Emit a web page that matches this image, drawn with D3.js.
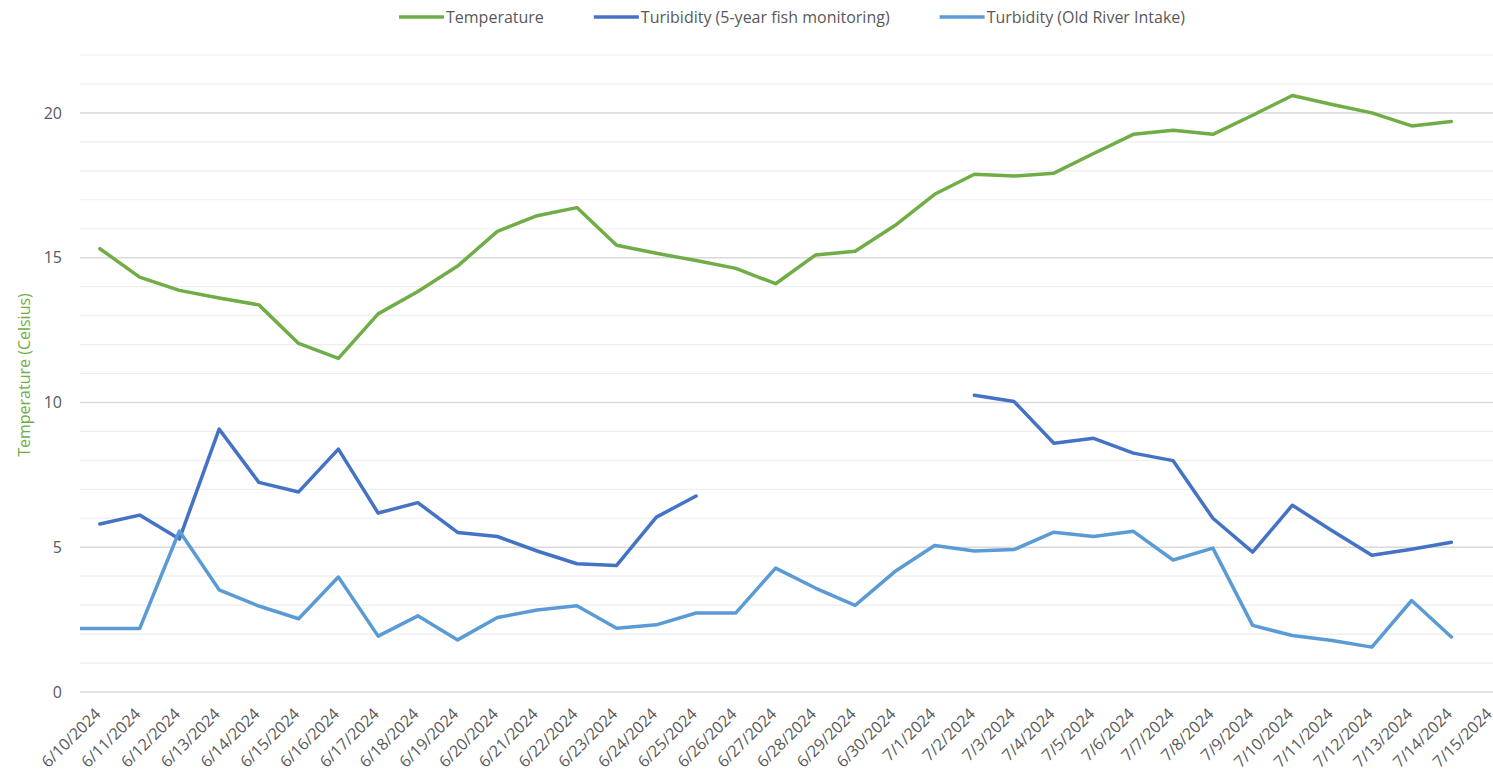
<!DOCTYPE html>
<html>
<head>
<meta charset="utf-8">
<script src="https://cdn.jsdelivr.net/npm/d3@7"></script>
<style>
  body { margin: 0; background: #fff; }
  svg { display: block; font-family: "Open Sans", "Liberation Sans", sans-serif; }
</style>
</head>
<body>
<svg width="1493" height="774"></svg>
<script>
// categories (x axis)
var dates = ["6/10/2024","6/11/2024","6/12/2024","6/13/2024","6/14/2024","6/15/2024","6/16/2024",
  "6/17/2024","6/18/2024","6/19/2024","6/20/2024","6/21/2024","6/22/2024","6/23/2024","6/24/2024",
  "6/25/2024","6/26/2024","6/27/2024","6/28/2024","6/29/2024","6/30/2024","7/1/2024","7/2/2024",
  "7/3/2024","7/4/2024","7/5/2024","7/6/2024","7/7/2024","7/8/2024","7/9/2024","7/10/2024",
  "7/11/2024","7/12/2024","7/13/2024","7/14/2024","7/15/2024"];

// series values (null = no reading)
var temperature = [15.31,14.33,13.87,13.61,13.37,12.04,11.52,13.06,13.83,14.71,15.91,16.45,16.73,15.43,
  15.15,14.9,14.63,14.1,15.09,15.22,16.11,17.19,17.88,17.82,17.92,18.6,19.26,19.4,19.26,19.92,20.6,
  20.29,20.0,19.55,19.7,null];
var fishMonitoring = [5.8,6.11,5.28,9.08,7.24,6.91,8.39,6.18,6.54,5.51,5.37,4.87,4.43,4.37,6.04,6.77,
  null,null,null,null,null,null,10.25,10.03,8.59,8.76,8.25,7.99,6.0,4.83,6.45,5.57,4.72,4.93,5.17,null];
var oldRiver = [2.19,2.19,5.56,3.53,2.97,2.53,3.97,1.93,2.63,1.8,2.57,2.83,2.98,2.2,2.32,2.73,2.73,4.28,
  3.59,2.99,4.16,5.06,4.87,4.92,5.52,5.37,5.55,4.56,4.97,2.3,1.95,1.78,1.55,3.16,1.9,null];
// reading of the day before the first category (runs in from the left edge)
var oldRiverLead = 2.19;

var seriesNames = ["Temperature", "Turibidity (5-year fish monitoring)", "Turbidity (Old River Intake)"];
var seriesColors = ["#70AD47", "#4472C4", "#5B9BD5"];
var yTicks = [0, 5, 10, 15, 20];

var svg = d3.select('svg');
var plotLeft = 80, plotRight = 1511, plotTop = 55, plotBottom = 692;

var x = d3.scaleBand().domain(dates).range([plotLeft, plotRight]);
var step = x.step();
var cx = function(d){ return x(d) + x.bandwidth() / 2; };
var y = d3.scaleLinear().domain([0, 22]).range([plotBottom, plotTop]);

// gridlines: minor every 1, major every 5
svg.append('g').selectAll('line')
  .data(d3.range(1, 23))
  .enter().append('line')
  .attr('x1', plotLeft).attr('x2', plotRight)
  .attr('y1', function(d){ return y(d); })
  .attr('y2', function(d){ return y(d); })
  .attr('stroke', function(d){ return d % 5 == 0 ? '#D9D9D9' : '#EEEEEE'; })
  .attr('stroke-width', function(d){ return d % 5 == 0 ? 1.5 : 1.2; });

// x axis line
svg.append('line')
  .attr('x1', plotLeft).attr('x2', plotRight)
  .attr('y1', y(0)).attr('y2', y(0))
  .attr('stroke', '#D9D9D9').attr('stroke-width', 1.5);

// y tick labels
svg.append('g').selectAll('text')
  .data(yTicks)
  .enter().append('text')
  .attr('x', 62)
  .attr('y', function(d){ return y(d); })
  .attr('dy', '0.35em')
  .attr('text-anchor', 'end')
  .attr('fill', '#595959')
  .style('font-size', '16px')
  .text(function(d){ return d; });

// x tick labels, rotated
svg.append('g').selectAll('text')
  .data(dates)
  .enter().append('text')
  .attr('transform', function(d){ return 'translate(' + (cx(d) - 2) + ',' + (y(0) + 19) + ')rotate(-45)'; })
  .attr('text-anchor', 'end')
  .attr('dy', '0.35em')
  .attr('fill', '#595959')
  .style('font-size', '16px')
  .text(function(d){ return d; });

// y axis title
svg.append('text')
  .attr('transform', 'translate(30,375)rotate(-90)')
  .attr('text-anchor', 'middle')
  .attr('fill', '#70AD47')
  .style('font-size', '16px')
  .text('Temperature (Celsius)');

// clip to plot area
svg.append('clipPath').attr('id', 'plot')
  .append('rect').attr('x', plotLeft).attr('y', 0).attr('width', plotRight - plotLeft).attr('height', plotBottom + 5);

var line = d3.line()
  .defined(function(d){ return d.v != null; })
  .x(function(d){ return d.x; })
  .y(function(d){ return y(d.v); });

function pts(values){
  return values.map(function(v, i){ return {x: cx(dates[i]), v: v}; });
}

var oldRiverPts = [{x: cx(dates[0]) - step, v: oldRiverLead}].concat(pts(oldRiver));
var allSeries = [pts(temperature), pts(fishMonitoring), oldRiverPts];

svg.append('g').attr('clip-path', 'url(#plot)')
  .selectAll('path')
  .data(allSeries)
  .enter().append('path')
  .attr('d', line)
  .attr('fill', 'none')
  .attr('stroke', function(d, i){ return seriesColors[i]; })
  .attr('stroke-width', 3.5)
  .attr('stroke-linejoin', 'round')
  .attr('stroke-linecap', 'round');

// legend
var legend = svg.append('g').attr('transform', 'translate(0,17)');
var lx = 399;
seriesNames.forEach(function(name, i){
  legend.append('line')
    .attr('x1', lx).attr('x2', lx + 45)
    .attr('y1', 0).attr('y2', 0)
    .attr('stroke', seriesColors[i]).attr('stroke-width', 3.5);
  var t = legend.append('text')
    .attr('x', lx + 47).attr('dy', '0.35em')
    .attr('fill', '#595959')
    .style('font-size', '16px')
    .text(name);
  lx += 47 + t.node().getComputedTextLength() + 50;
});
</script>
</body>
</html>
